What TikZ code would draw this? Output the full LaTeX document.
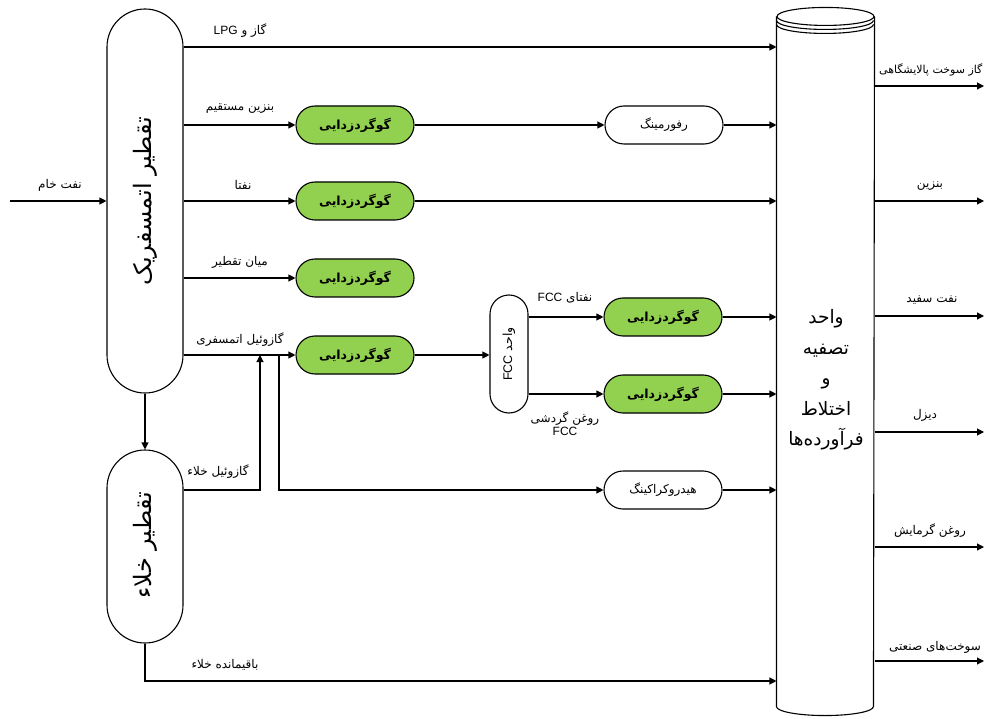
\documentclass[tikz,border=0pt]{standalone}
\usepackage{fontspec}
\setmainfont{Liberation Sans}
\newfontfamily\fa[Script=Arabic]{DejaVu Sans}
\TeXXeTstate=1
\usetikzlibrary{arrows.meta}
\newcommand\fatext[1]{{\fa\beginR #1\endR}}
\definecolor{desgreen}{RGB}{146,208,80}
\begin{document}
\begin{tikzpicture}[x=1pt,y=-1pt,line width=1.1pt,
  arr/.style={-{Triangle[length=7pt,width=7pt]}},
  col/.style={draw,fill=white,rounded corners=38pt,minimum width=76pt,inner sep=0pt},
  pill/.style={draw,fill=white,rounded corners=19pt,minimum width=118pt,minimum height=38pt,inner sep=0pt,font=\fontsize{12}{13}\selectfont},
  gbox/.style={pill,fill=desgreen,font=\fontsize{12.5}{14}\selectfont\bfseries},
  lbl/.style={font=\fontsize{12}{13}\selectfont,inner sep=0pt},
  coltext/.style={rotate=90,font=\fontsize{24}{28}\selectfont,inner sep=0pt},
]
\useasboundingbox (0,0) rectangle (985,719);

% refinery cylinder
\node[minimum width=97pt,minimum height=689pt,inner sep=0pt] (ref) at (825.5,361.5) {};
\draw[fill=white] (ref.north west) -- (ref.south west)
  arc[start angle=180,end angle=360,x radius=48.5pt,y radius=9pt] -- (ref.north east);
\draw[fill=white] (ref.north) ellipse [x radius=48.5pt,y radius=9pt];
\draw ([yshift=-4pt]ref.north west) arc[start angle=180,end angle=360,x radius=48.5pt,y radius=9pt];
\draw ([yshift=-8pt]ref.north west) arc[start angle=180,end angle=360,x radius=48.5pt,y radius=9pt];
\node[align=center,font=\fontsize{18.5}{30.5}\selectfont,inner sep=0pt] (reftext) at (826,380)
  {\fatext{واحد}\\\fatext{تصفیه}\\\fatext{و}\\\fatext{اختلاط}\\\fatext{فرآورده‌ها}};

% columns
\node[col,minimum height=384pt] (atm) at (145,201) {};
\node[coltext] (atmt) at (145,201) {\fatext{تقطیر اتمسفریک}};
\node[col,minimum height=193pt] (vac) at (145,546.5) {};
\node[coltext] (vact) at (145,545) {\fatext{تقطیر خلاء}};

% process boxes
\node[gbox] (g1) at (355,125) {\fatext{گوگردزدایی}};
\node[gbox] (g2) at (355,201) {\fatext{گوگردزدایی}};
\node[gbox] (g3) at (355,278) {\fatext{گوگردزدایی}};
\node[gbox] (g4) at (355,355) {\fatext{گوگردزدایی}};
\node[gbox] (g5) at (663,317) {\fatext{گوگردزدایی}};
\node[gbox] (g6) at (663,394) {\fatext{گوگردزدایی}};
\node[pill] (rf) at (664,125) {\fatext{رفورمینگ}};
\node[pill] (hc) at (663,490) {\fatext{هیدروکراکینگ}};
\node[draw,fill=white,rounded corners=19pt,minimum width=38pt,minimum height=118pt,inner sep=0pt] (fcc) at (509,354) {};
\node[rotate=90,font=\fontsize{12.5}{14}\selectfont,inner sep=0pt] (fcct) at (509,354)
  {\fatext{واحد \beginL{\rmfamily FCC}\endL}};

% coordinates
\coordinate (crude) at (10,201);
\coordinate (vgo) at (260,490);
\coordinate (hcb) at (279,355);
\coordinate (vr) at (145,681);
\coordinate (o1) at (984,86);
\coordinate (o2) at (984,201);
\coordinate (o3) at (984,316);
\coordinate (o4) at (984,432);
\coordinate (o5) at (984,547);
\coordinate (o6) at (984,661);

% connectors
\draw[arr] (crude) -- (atm.west |- crude);
\draw[arr] (atm.east |- 0,47) -- (ref.west |- 0,47);
\draw[arr] (atm.east |- g1) -- (g1);
\draw[arr] (g1) -- (rf);
\draw[arr] (rf) -- (ref.west |- rf);
\draw[arr] (atm.east |- g2) -- (g2);
\draw[arr] (g2) -- (ref.west |- g2);
\draw[arr] (atm.east |- g3) -- (g3);
\draw[arr] (atm.east |- g4) -- (g4);
\draw[arr] (g4.east) -- (fcc.west |- g4.east);
\draw[arr] (fcc.east |- g5) -- (g5);
\draw[arr] (fcc.east |- g6) -- (g6);
\draw[arr] (g5) -- (ref.west |- g5);
\draw[arr] (g6) -- (ref.west |- g6);
\draw[arr] (vac.east |- vgo) -- (vgo) -- (vgo |- g4);
\draw[arr] (hcb) -- (hcb |- hc) -- (hc);
\draw[arr] (hc) -- (ref.west |- hc);
\draw[arr] (atm.south) -- (vac.north);
\draw[arr] (vac.south) -- (vr) -- (ref.west |- vr);
\foreach \o in {o1,o2,o3,o4,o5,o6} \draw[arr] (ref.east |- \o) -- (\o);

% labels
\node[lbl] at (60,185) {\fatext{نفت خام}};
\node[lbl] at (240,31) {\fatext{گاز و \beginL{\rmfamily LPG}\endL}};
\node[lbl] at (240,109) {\fatext{بنزین مستقیم}};
\node[lbl] at (243,185) {\fatext{نفتا}};
\node[lbl] at (240,262) {\fatext{میان تقطیر}};
\node[lbl] at (240,340) {\fatext{گازوئیل اتمسفری}};
\node[lbl] at (218,472) {\fatext{گازوئیل خلاء}};
\node[lbl] at (225,665) {\fatext{باقیمانده خلاء}};
\node[lbl] at (565,298) {\fatext{نفتای \beginL{\rmfamily FCC}\endL}};
\node[lbl,align=center] at (565,424) {\fatext{روغن گردشی}\\{\rmfamily FCC}};
\node[lbl,anchor=east,font=\fontsize{11}{12}\selectfont] at (983,70) {\fatext{گاز سوخت پالایشگاهی}};
\node[lbl] at (930,186) {\fatext{بنزین}};
\node[lbl] at (932,300) {\fatext{نفت سفید}};
\node[lbl] at (925,415) {\fatext{دیزل}};
\node[lbl] at (930,531) {\fatext{روغن گرمایش}};
\node[lbl] at (935,647) {\fatext{سوخت‌های صنعتی}};
\end{tikzpicture}
\end{document}
